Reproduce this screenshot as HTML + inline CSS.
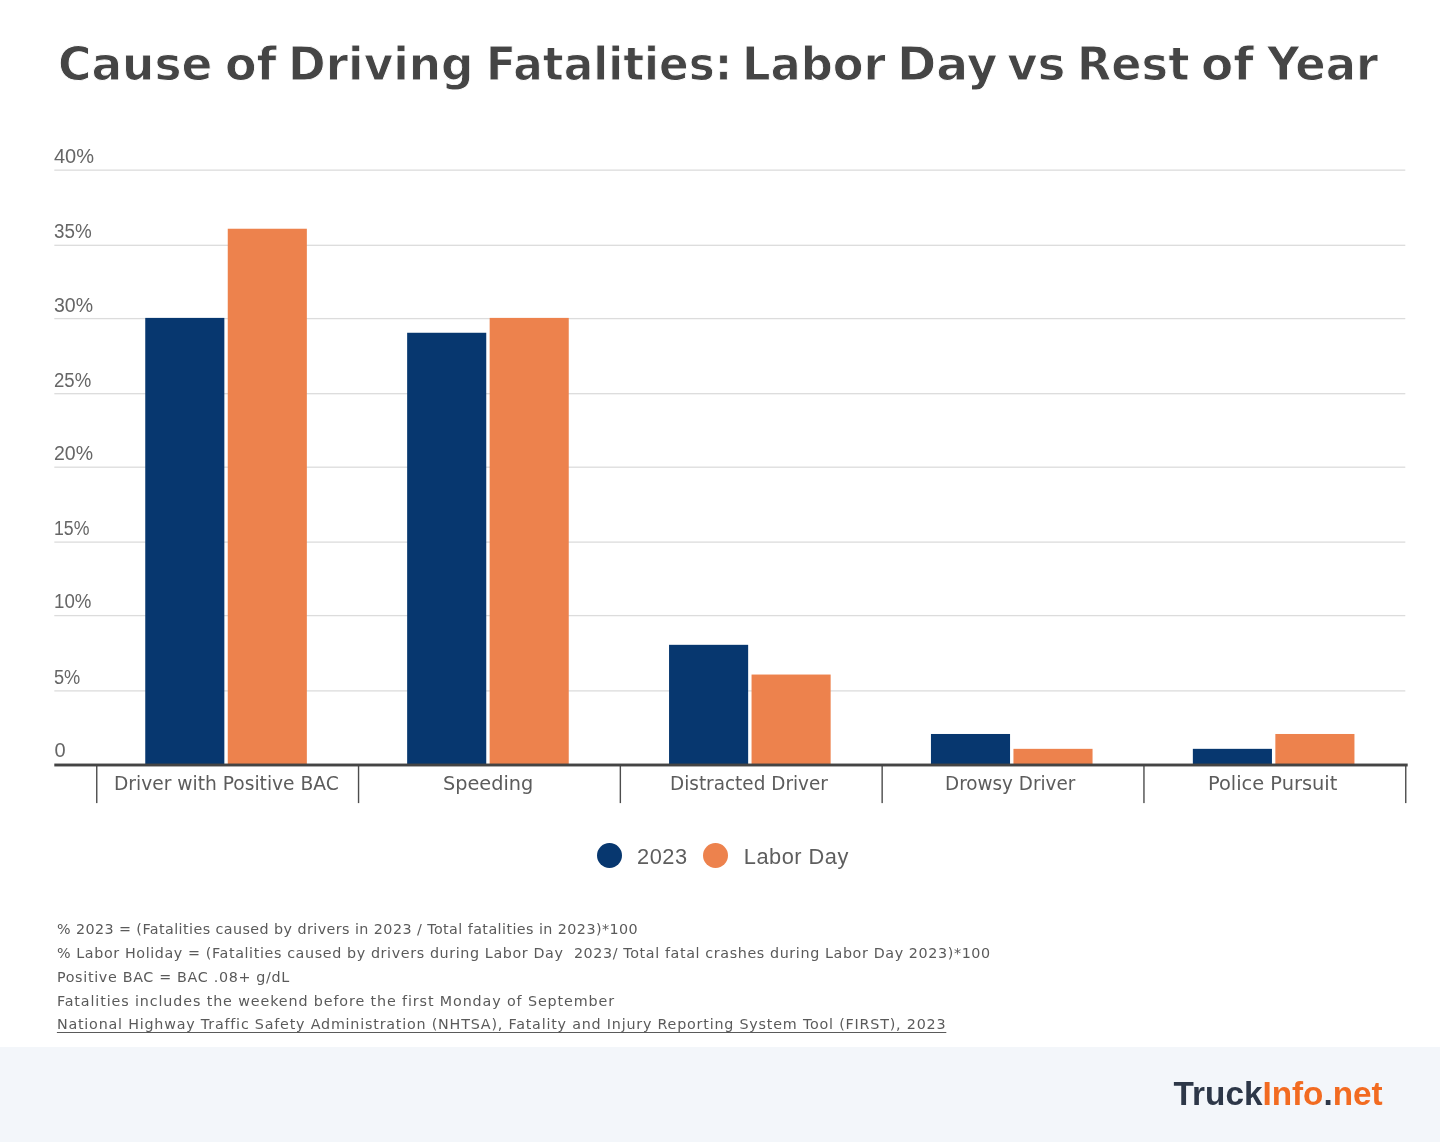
<!DOCTYPE html>
<html lang="en">
<head>
<meta charset="utf-8">
<title>Cause of Driving Fatalities: Labor Day vs Rest of Year</title>
<style>
html,body{margin:0;padding:0;}
body{width:1440px;height:1142px;position:relative;overflow:hidden;background:#fff;font-family:"Liberation Sans",sans-serif;}
h1{position:absolute;margin:0;left:0;top:31.94px;width:1440px;height:63px;font-family:"DejaVu Sans","Liberation Sans",sans-serif;font-weight:bold;font-size:43.87px;line-height:60px;color:#454545;white-space:nowrap;-webkit-text-stroke:0.9px #fff;paint-order:fill stroke;}
h1 span{position:absolute;top:0;display:block;transform-origin:0 0;}
.yl{position:absolute;left:54px;font-size:20px;line-height:24px;color:#666;white-space:nowrap;transform-origin:0 0;}
.b{background:#07376f;}
.o{background:#ed824d;}
.chart{position:absolute;left:0;top:0;}
.xl{position:absolute;top:772px;font-family:"DejaVu Sans Condensed","DejaVu Sans","Liberation Sans",sans-serif;font-stretch:condensed;font-size:19.3px;line-height:24px;color:#5c5c5c;white-space:nowrap;transform-origin:0 0;}
.dot{position:absolute;width:24.8px;height:24.8px;border-radius:50%;top:843.3px;}
.lg{position:absolute;top:844px;font-size:21.8px;line-height:25px;letter-spacing:0.5px;color:#5e5e5e;white-space:nowrap;}
.fn{position:absolute;left:56.9px;font-family:"DejaVu Sans","Liberation Sans",sans-serif;font-size:14.3px;line-height:18px;color:#5a5a5a;white-space:pre;text-underline-offset:2.6px;text-decoration-thickness:1px;}
.footer{position:absolute;left:0;top:1046.5px;width:1440px;height:96px;background:#f3f6fa;}
.logo{position:absolute;left:1173.6px;top:1074.4px;font-weight:bold;font-size:33.3px;line-height:40px;color:#2d3748;white-space:nowrap;}
.logo span{color:#f26b21;}
</style>
</head>
<body>
<h1 id="title"><span style="left:57.6px;transform:scale(1.037,1.066)">Cause</span> <span style="left:224.5px;transform:scale(1.049,1.066)">of</span> <span style="left:287.5px;transform:scale(1.035,1.066)">Driving</span> <span style="left:485.9px;transform:scale(0.997,1.066)">Fatalities:</span> <span style="left:741.6px;transform:scale(1.021,1.066)">Labor</span> <span style="left:897.1px;transform:scale(1.078,1.066)">Day</span> <span style="left:1006.8px;transform:scale(1.071,1.066)">vs</span> <span style="left:1076.6px;transform:scale(1.017,1.066)">Rest</span> <span style="left:1201.2px;transform:scale(1.070,1.066)">of</span> <span style="left:1266.5px;transform:scale(1.023,1.066)">Year</span></h1>


<div class="yl" id="y0" style="top:143.6px">40%</div>
<div class="yl" id="y1" style="transform:scaleX(0.940);top:218.7px">35%</div>
<div class="yl" id="y2" style="transform:scaleX(0.975);top:292.5px">30%</div>
<div class="yl" id="y3" style="transform:scaleX(0.930);top:367.5px">25%</div>
<div class="yl" id="y4" style="transform:scaleX(0.975);top:441.0px">20%</div>
<div class="yl" id="y5" style="transform:scaleX(0.885);top:516.1px">15%</div>
<div class="yl" id="y6" style="transform:scaleX(0.935);top:589.4px">10%</div>
<div class="yl" id="y7" style="transform:scaleX(0.910);top:664.7px">5%</div>
<div class="yl" id="y8" style="left:54.5px;top:738.3px">0</div>


<svg class="chart" width="1440" height="1142" viewBox="0 0 1440 1142">
<g fill="#dcdcdc">
<rect x="54.3" y="169.50" width="1351" height="1.3"/>
<rect x="54.3" y="244.65" width="1351" height="1.3"/>
<rect x="54.3" y="317.95" width="1351" height="1.3"/>
<rect x="54.3" y="393.05" width="1351" height="1.3"/>
<rect x="54.3" y="466.55" width="1351" height="1.3"/>
<rect x="54.3" y="541.45" width="1351" height="1.3"/>
<rect x="54.3" y="614.95" width="1351" height="1.3"/>
<rect x="54.3" y="690.25" width="1351" height="1.3"/>
</g>
<g>
<rect fill="#07376f" x="145.25" y="317.90" width="79.1" height="447.10"/>
<rect fill="#ed824d" x="227.75" y="228.74" width="79.1" height="536.26"/>
<rect fill="#07376f" x="407.15" y="332.76" width="79.1" height="432.24"/>
<rect fill="#ed824d" x="489.65" y="317.90" width="79.1" height="447.10"/>
<rect fill="#07376f" x="669.05" y="644.82" width="79.1" height="120.18"/>
<rect fill="#ed824d" x="751.55" y="674.54" width="79.1" height="90.46"/>
<rect fill="#07376f" x="930.95" y="733.98" width="79.1" height="31.02"/>
<rect fill="#ed824d" x="1013.45" y="748.84" width="79.1" height="16.16"/>
<rect fill="#07376f" x="1192.85" y="748.84" width="79.1" height="16.16"/>
<rect fill="#ed824d" x="1275.35" y="733.98" width="79.1" height="31.02"/>
</g>
<g fill="#4d4d4d">
<rect x="96.05" y="765" width="1.4" height="38.1"/>
<rect x="357.85" y="765" width="1.4" height="38.1"/>
<rect x="619.65" y="765" width="1.4" height="38.1"/>
<rect x="881.45" y="765" width="1.4" height="38.1"/>
<rect x="1143.25" y="765" width="1.4" height="38.1"/>
<rect x="1405.05" y="765" width="1.4" height="38.1"/>
</g>
<rect fill="#444" x="54.3" y="763.55" width="1353.4" height="2.9"/>
</svg>

<div class="xl" id="x1" style="left:113.8px;transform:scaleX(1.075)">Driver with Positive BAC</div>
<div class="xl" id="x2" style="left:443.0px;transform:scaleX(1.112)">Speeding</div>
<div class="xl" id="x3" style="left:669.8px;transform:scaleX(1.062)">Distracted Driver</div>
<div class="xl" id="x4" style="left:945.4px;transform:scaleX(1.059)">Drowsy Driver</div>
<div class="xl" id="x5" style="left:1208.0px;transform:scaleX(1.118)">Police Pursuit</div>

<div class="dot b" style="left:597.0px"></div>
<div class="lg" id="lg1" style="left:637.1px">2023</div>
<div class="dot o" style="left:702.8px"></div>
<div class="lg" id="lg2" style="left:743.8px">Labor Day</div>

<div class="fn" id="fn1" style="top:919.95px;letter-spacing:0.433px">% 2023 = (Fatalities caused by drivers in 2023 / Total fatalities in 2023)*100</div>
<div class="fn" id="fn2" style="top:943.85px;letter-spacing:0.614px">% Labor Holiday = (Fatalities caused by drivers during Labor Day  2023/ Total fatal crashes during Labor Day 2023)*100</div>
<div class="fn" id="fn3" style="top:967.85px;letter-spacing:0.678px">Positive BAC = BAC .08+ g/dL</div>
<div class="fn" id="fn4" style="top:991.80px;letter-spacing:0.882px">Fatalities includes the weekend before the first Monday of September</div>
<div class="fn" id="fn5" style="top:1015.35px;letter-spacing:0.793px;text-decoration:underline">National Highway Traffic Safety Administration (NHTSA), Fatality and Injury Reporting System Tool (FIRST), 2023</div>

<div class="footer"></div>
<div class="logo" id="logo">Truck<span>Info</span>.<span>net</span></div>
</body>
</html>
